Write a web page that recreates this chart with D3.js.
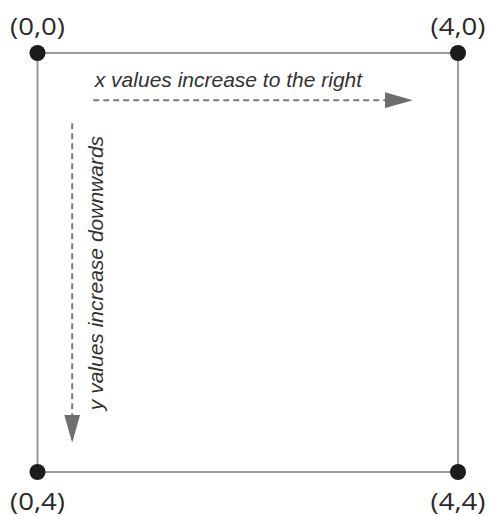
<!DOCTYPE html>
<html lang="en">
<head>
    <meta charset="UTF-8">
    <title>Coordinate system</title>
    <script src="https://d3js.org/d3.v7.min.js"></script>
    <style>
        body { margin: 0; background: #fff; }
        .edge { fill: none; stroke: #9a9a9a; stroke-width: 2; }
        .corner { fill: #1c1c1c; }
        .label { font-family: "Open Sans", "Liberation Sans", Arial, sans-serif; font-size: 23px; fill: #2a2a2a; }
        .note { font-family: "Liberation Sans", Arial, sans-serif; font-size: 21px; font-style: italic; fill: #333; }
        .arrow { stroke: #7a7a7a; stroke-width: 2; stroke-dasharray: 6 4; }
    </style>
</head>
<body>
<svg id="chart" width="489" height="516"></svg>

<script>
    // corners of the square, in svg coordinate units
    const cornerX = [0, 4, 4, 0];
    const cornerY = [0, 0, 4, 4];
    const cornerLabels = ["(0,0)", "(4,0)", "(4,4)", "(0,4)"];

    // dashed arrows: [x1, y1, x2, y2] in the same units
    const xArrow = [0.53, 0.45, 3.57, 0.45];
    const yArrow = [0.33, 0.67, 0.33, 3.72];

    const xNote = "x values increase to the right";
    const yNote = "y values increase downwards";

    const svg = d3.select("#chart");

    const x = d3.scaleLinear().domain([0, 4]).range([37.5, 458]);
    const y = d3.scaleLinear().domain([0, 4]).range([53, 472]);

    const corners = cornerX.map((cx, i) => ({ x: cx, y: cornerY[i], label: cornerLabels[i] }));

    // arrow heads
    const defs = svg.append("defs");
    defs.append("marker")
        .attr("id", "head")
        .attr("viewBox", "0 0 28 16")
        .attr("refX", 28)
        .attr("refY", 8)
        .attr("markerWidth", 28)
        .attr("markerHeight", 16)
        .attr("markerUnits", "userSpaceOnUse")
        .attr("orient", "auto")
        .append("path")
        .attr("d", "M0,0 L28,8 L0,16 Z")
        .attr("fill", "#6e6e6e");

    // square
    svg.append("path")
        .attr("class", "edge")
        .attr("d", d3.line().x(d => x(d.x)).y(d => y(d.y))(corners) + "Z");

    // arrows
    [xArrow, yArrow].forEach(a => {
        svg.append("line")
            .attr("class", "arrow")
            .attr("x1", x(a[0])).attr("y1", y(a[1]))
            .attr("x2", x(a[2])).attr("y2", y(a[3]))
            .attr("marker-end", "url(#head)");
    });

    // notes
    svg.append("text")
        .attr("class", "note")
        .attr("x", x(0.545))
        .attr("y", y(0.325))
        .text(xNote);

    svg.append("text")
        .attr("class", "note")
        .attr("transform", `translate(${x(0.623)},${y(3.41)}) rotate(-90)`)
        .text(yNote);

    // corner dots
    svg.selectAll("circle")
        .data(corners)
        .join("circle")
        .attr("class", "corner")
        .attr("cx", d => x(d.x))
        .attr("cy", d => y(d.y))
        .attr("r", 8);

    // corner labels
    svg.selectAll("text.label")
        .data(corners)
        .join("text")
        .attr("class", "label")
        .attr("text-anchor", "middle")
        .attr("x", d => x(d.x))
        .attr("y", d => d.y === 0 ? y(d.y) - 18 : y(d.y) + 38)
        .attr("textLength", 55)
        .attr("lengthAdjust", "spacingAndGlyphs")
        .text(d => d.label);
</script>
</body>
</html>
